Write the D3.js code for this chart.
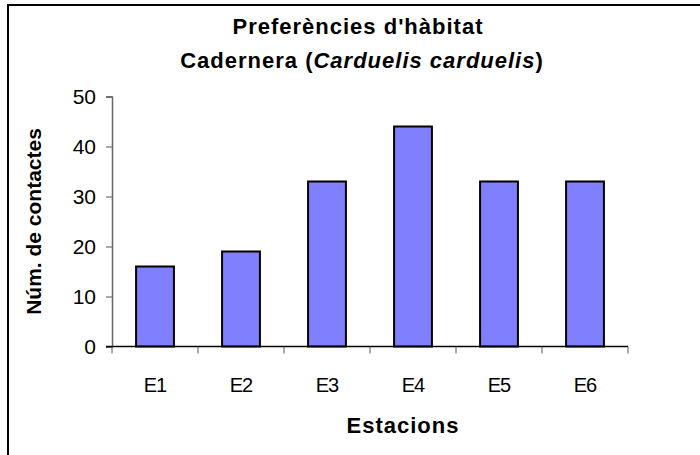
<!DOCTYPE html>
<html>
<head>
<meta charset="utf-8">
<script src="https://cdn.jsdelivr.net/npm/d3@7"></script>
<style>
  html, body { margin: 0; padding: 0; background: #fff; }
  svg { display: block; font-family: "Liberation Sans", Arial, sans-serif; }
</style>
</head>
<body>
<svg id="chart"></svg>
<script>
// chart data
const stations = ['E1', 'E2', 'E3', 'E4', 'E5', 'E6'];
const contacts = [16, 19, 33, 44, 33, 33];
const yTicks = [0, 10, 20, 30, 40, 50];

const width = 700, height = 455;
const margin = { left: 112, right: 72, top: 96.5, bottom: 108.5 };

const svg = d3.select('#chart')
    .attr('width', width)
    .attr('height', height);

// outer frame (only top and left edges are visible)
svg.append('path')
    .attr('d', `M8,${height + 5} V5 H${width + 5}`)
    .attr('fill', 'none')
    .attr('stroke', '#000')
    .attr('stroke-width', 2);

const x = d3.scaleBand()
    .domain(stations)
    .range([margin.left, width - margin.right])
    .paddingInner(0.56)
    .paddingOuter(0.28);

const y = d3.scaleLinear()
    .domain([0, 50])
    .range([height - margin.bottom, margin.top]);

// bars
svg.selectAll('rect.bar')
    .data(stations)
    .enter()
    .append('rect')
    .attr('class', 'bar')
    .attr('x', d => x(d))
    .attr('y', (d, i) => y(contacts[i]))
    .attr('width', x.bandwidth())
    .attr('height', (d, i) => y(0) - y(contacts[i]))
    .attr('fill', '#8080ff')
    .attr('stroke', '#000')
    .attr('stroke-width', 2);

// y axis
const yAxis = svg.append('g')
    .attr('transform', `translate(${margin.left},0)`)
    .call(d3.axisLeft(y).tickValues(yTicks).tickSize(6).tickPadding(10).tickFormat(d3.format('d')));
yAxis.select('.domain').attr('stroke', '#666').attr('stroke-width', 1.5);
yAxis.selectAll('.tick line').attr('stroke', '#555');
yAxis.selectAll('.tick text')
    .attr('font-size', 21)
    .attr('fill', '#000')
    .attr('font-family', '"Liberation Sans", Arial, sans-serif');

// x axis: ticks sit on the category boundaries
const bounds = d3.range(stations.length + 1).map(i => margin.left + i * x.step());
const xAxisG = svg.append('g');
xAxisG.append('line')
    .attr('x1', margin.left - 6)
    .attr('x2', width - margin.right)
    .attr('y1', y(0))
    .attr('y2', y(0))
    .attr('stroke', '#000')
    .attr('stroke-width', 1.5);
xAxisG.selectAll('line.tick')
    .data(bounds)
    .enter()
    .append('line')
    .attr('class', 'tick')
    .attr('x1', d => d)
    .attr('x2', d => d)
    .attr('y1', y(0))
    .attr('y2', y(0) + 7)
    .attr('stroke', '#555');
xAxisG.selectAll('text')
    .data(stations)
    .enter()
    .append('text')
    .attr('x', d => x(d) + x.bandwidth() / 2)
    .attr('y', y(0) + 45)
    .attr('text-anchor', 'middle')
    .attr('font-size', 20)
    .attr('letter-spacing', '-1px')
    .text(d => d);

// axis titles
svg.append('text')
    .attr('x', 403)
    .attr('y', 433)
    .attr('text-anchor', 'middle')
    .attr('font-size', 22)
    .attr('font-weight', 'bold')
    .attr('letter-spacing', '1px')
    .text('Estacions');

svg.append('text')
    .attr('transform', `translate(41,${(y(0) + y(50)) / 2}) rotate(-90)`)
    .attr('text-anchor', 'middle')
    .attr('font-size', 21)
    .attr('font-weight', 'bold')
    .text('Núm. de contactes');

// chart title
svg.append('text')
    .attr('x', 358)
    .attr('y', 34)
    .attr('text-anchor', 'middle')
    .attr('font-size', 22)
    .attr('font-weight', 'bold')
    .attr('letter-spacing', '1px')
    .text("Preferències d'hàbitat");

const t2 = svg.append('text')
    .attr('x', 362)
    .attr('y', 68)
    .attr('text-anchor', 'middle')
    .attr('font-size', 22)
    .attr('font-weight', 'bold')
    .attr('letter-spacing', '1px');
t2.append('tspan').text('Cadernera (');
t2.append('tspan').attr('font-style', 'italic').text('Carduelis carduelis');
t2.append('tspan').text(')');
</script>
</body>
</html>
